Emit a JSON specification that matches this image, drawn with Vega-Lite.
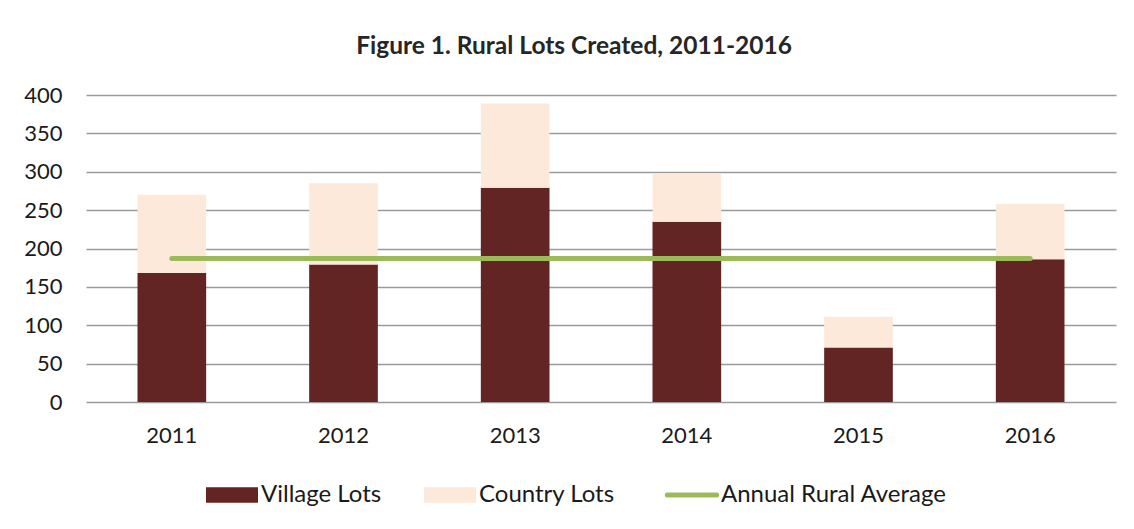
{
  "$schema": "https://vega.github.io/schema/vega-lite/v6.json",
  "width": 1030,
  "height": 307,
  "autosize": {"type": "none"},
  "padding": {"left": 86, "top": 95, "right": 18, "bottom": 127},
  "background": "white",
  "title": {
    "text": "Figure 1. Rural Lots Created, 2011-2016",
    "font": "Lato",
    "fontSize": 24.5,
    "fontWeight": "bold",
    "color": "#262626",
    "anchor": "middle",
    "dx": -27,
    "offset": 25
  },
  "datasets": {
    "lots": [
      {"year": "2011", "series": "Village Lots", "value": 168},
      {"year": "2011", "series": "Country Lots", "value": 102},
      {"year": "2012", "series": "Village Lots", "value": 179},
      {"year": "2012", "series": "Country Lots", "value": 106},
      {"year": "2013", "series": "Village Lots", "value": 279},
      {"year": "2013", "series": "Country Lots", "value": 110},
      {"year": "2014", "series": "Village Lots", "value": 235},
      {"year": "2014", "series": "Country Lots", "value": 63},
      {"year": "2015", "series": "Village Lots", "value": 71},
      {"year": "2015", "series": "Country Lots", "value": 40},
      {"year": "2016", "series": "Village Lots", "value": 186},
      {"year": "2016", "series": "Country Lots", "value": 72}
    ],
    "avg": [
      {"year": "2011", "series": "Annual Rural Average", "value": 187},
      {"year": "2012", "series": "Annual Rural Average", "value": 187},
      {"year": "2013", "series": "Annual Rural Average", "value": 187},
      {"year": "2014", "series": "Annual Rural Average", "value": 187},
      {"year": "2015", "series": "Annual Rural Average", "value": 187},
      {"year": "2016", "series": "Annual Rural Average", "value": 187}
    ]
  },
  "encoding": {
    "x": {
      "field": "year",
      "type": "nominal",
      "sort": null,
      "title": null,
      "scale": {"paddingInner": 0.6, "paddingOuter": 0.3},
      "axis": {
        "labelAngle": 0,
        "labelFont": "Lato",
        "labelFontSize": 22,
        "labelColor": "#1a1a1a",
        "labelPadding": 23,
        "ticks": false,
        "domain": false,
        "grid": false
      }
    },
    "y": {
      "field": "value",
      "type": "quantitative",
      "title": null,
      "scale": {"domain": [0, 400], "nice": false},
      "axis": {
        "values": [0, 50, 100, 150, 200, 250, 300, 350, 400],
        "labelFont": "Lato",
        "labelFontSize": 22,
        "labelColor": "#1a1a1a",
        "labelPadding": 24,
        "ticks": false,
        "domain": false,
        "grid": true,
        "gridColor": "#9a9a9a",
        "gridWidth": 1.5
      }
    }
  },
  "layer": [
    {
      "data": {"name": "lots"},
      "mark": {"type": "bar"},
      "encoding": {
        "y": {"field": "value", "type": "quantitative", "stack": "zero"},
        "color": {
          "field": "series",
          "type": "nominal",
          "sort": ["Village Lots", "Country Lots"],
          "scale": {
            "domain": ["Village Lots", "Country Lots", "Annual Rural Average"],
            "range": ["#632523", "#FDE9D9", "#9BBB59"]
          },
          "legend": {
            "title": null,
            "orient": "none",
            "direction": "horizontal",
            "legendX": 134,
            "legendY": 388,
            "symbolSize": 2704,
            "labelFont": "Lato",
            "labelFontSize": 24,
            "labelColor": "#1a1a1a",
            "labelOffset": 17,
            "labelLimit": 400,
            "columnPadding": 42,
            "symbolStrokeWidth": 0,
            "encode": {
              "symbols": {
                "update": {
                  "shape": {"signal": "datum.value === 'Annual Rural Average' ? 'M-0.95,0H0.95' : 'M-1,-0.3H1V0.3H-1Z'"},
                  "fill": {"signal": "scale('color', datum.value)"},
                  "stroke": {"signal": "scale('color', datum.value)"},
                  "strokeWidth": {"signal": "datum.value === 'Annual Rural Average' ? 5 : 0"},
                  "strokeCap": {"value": "round"},
                  "opacity": {"value": 1},
                  "fillOpacity": {"value": 1}
                }
              }
            }
          }
        }
      }
    },
    {
      "data": {"name": "avg"},
      "mark": {"type": "line", "strokeWidth": 5, "strokeCap": "round"},
      "encoding": {
        "color": {"datum": "Annual Rural Average"}
      }
    }
  ],
  "config": {
    "view": {"stroke": null}
  }
}
